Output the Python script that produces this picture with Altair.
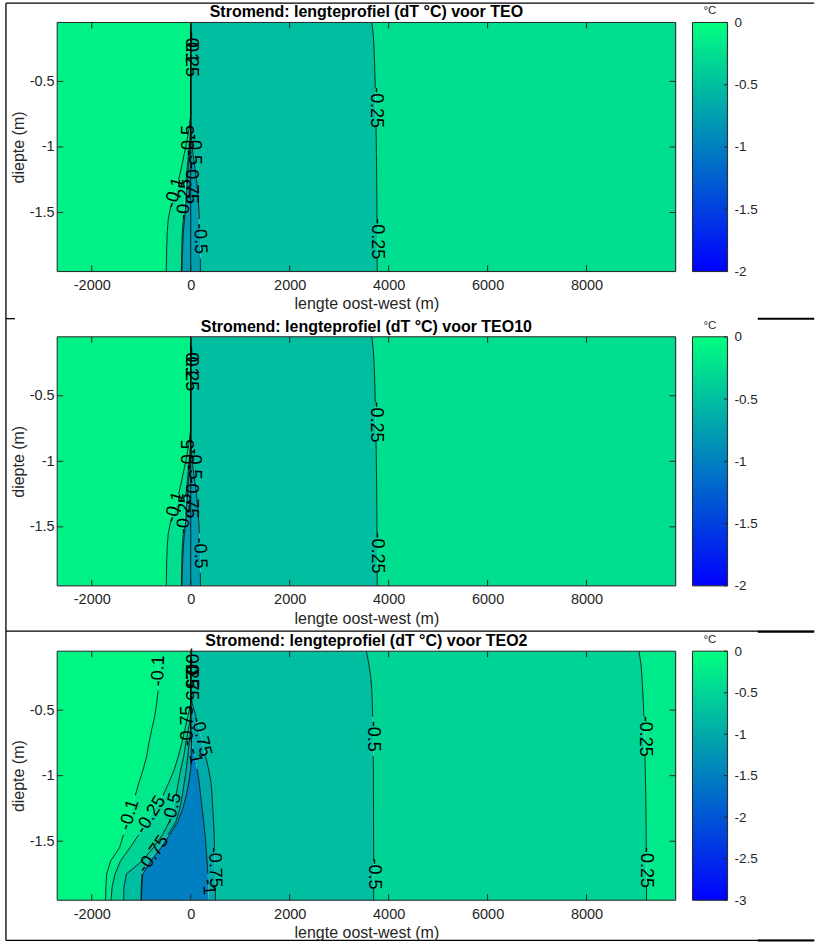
import altair as alt
import pandas as pd

FONT = "Liberation Sans"
INK = "#262626"

# ---- shared axes -------------------------------------------------------
DEPTH = [-0.05, -0.15, -0.25, -0.35, -0.45, -0.55, -0.65, -0.75, -0.85, -0.95,
         -1.05, -1.15, -1.25, -1.35, -1.45, -1.55, -1.65, -1.75, -1.85, -1.95]
X_DOMAIN = [-2700, 9800]
Y_DOMAIN = [-1.95, -0.05]
X_TICKS = [-2000, 0, 2000, 4000, 6000, 8000]
Y_TICKS = [-1.5, -1, -0.5]
WINTER = ["#0000ff", "#00ff80"]  # MATLAB 'winter' colormap end points

# ---- TEO: contour line positions x (m) at each DEPTH ------------------
TEO_LINES = {
    "a": [0, 0, 0, 0, 0, 0, 0, 0, -30, -75, -130, -185, -245, -315, -400, -455, -475, -485, -490, -495],
    "b": [0, 0, 0, 0, 0, 0, 0, 0, 0, -20, -45, -70, -95, -115, -125, -150, -170, -180, -185, -190],
    "c": [0, 0, 0, 0, 0, 0, 0, 0, 0, 0, -25, -45, -65, -85, -100, -125, -150, -162, -170, -176],
    "e": [0, 0, 0, 0, 0, 0, 0, 0, 0, 0, 0, 0, 0, 0, 0, 0, 0, 0, 0, 0],
    "f": [0, 0, 0, 0, 0, 0, 0, 0, 0, 20, 45, 80, 115, 140, 160, 175, 185, 190, 193, 196],
    "g": [3660, 3690, 3705, 3715, 3722, 3730, 3736, 3741, 3745, 3750,
          3753, 3756, 3758, 3760, 3762, 3764, 3766, 3767, 3768, 3770],
}
# line breaks left open for the labels: (upper depth, lower depth)
TEO_GAPS = {
    "a": [(-1.25, -1.45)],
    "b": [(-1.25, -1.55)],
    "f": [(-1.55, -1.85)],
    "g": [(-0.55, -0.85), (-1.55, -1.85)],
}
# filled bands: (left boundary, right boundary, lower contour level)
TEO_BANDS = [("xmin", "a", -0.1), ("a", "b", -0.25), ("b", "c", -0.5),
             ("c", "f", -0.75), ("f", "g", -0.5), ("g", "xmax", -0.25)]
# contour labels: (text, x, depth, rotation)
TEO_LABELS = [
    ("-0.1", -5, -0.24, 90), ("-0.25", 0, -0.31, 90),
    ("-0.5", -40, -0.95, 270), ("-0.5", 60, -1.02, 90),
    ("-0.75", 10, -1.28, 90), ("-0.1", -320, -1.35, 286),
    ("-0.25", -122, -1.40, 274), ("-0.5", 184, -1.70, 88),
    ("-0.25", 3738, -0.70, 90), ("-0.25", 3766, -1.70, 90),
]

# ---- TEO10: same profile as TEO ---------------------------------------
TEO10_LINES = TEO_LINES
TEO10_GAPS = TEO_GAPS
TEO10_BANDS = TEO_BANDS
TEO10_LABELS = TEO_LABELS

# ---- TEO2 ---------------------------------------------------------------
TEO2_LINES = {
    "c1": [-640, -645, -652, -660, -690, -730, -790, -845, -890, -960,
           -1045, -1120, -1200, -1280, -1360, -1440, -1620, -1700, -1715, -1722],
    "c2": [0, 0, 0, 0, 0, -60, -120, -180, -250, -330,
           -440, -560, -730, -890, -1050, -1230, -1420, -1530, -1590, -1610],
    "c3": [0, 0, 0, 0, 0, 0, -50, -100, -140, -200,
           -250, -300, -360, -430, -570, -760, -980, -1300, -1350, -1355],
    "c4": [0, 0, 0, 0, 0, 0, 0, -30, -60, -90,
           -130, -170, -220, -300, -460, -650, -860, -985, -1000, -1005],
    "c5": [0, 0, 0, 0, 0, 0, 0, 15, 10, 0,
           -40, -90, -160, -260, -420, -600, -800, -970, -990, -995],
    "c6": [0, 0, 0, 0, 0, 0, 0, 15, 80, 130, 170, 200, 230, 260, 290, 310, 330, 345, 355, 365],
    "c7": [0, 0, 0, 0, 30, 110, 170, 230, 300, 360, 410, 430, 445, 460, 475, 480, 485, 490, 495, 500],
    "c8": [3550, 3600, 3640, 3660, 3670, 3677, 3682, 3686, 3689, 3691,
           3692, 3693, 3694, 3695, 3695, 3696, 3696, 3697, 3697, 3697],
    "c9": [9060, 9100, 9120, 9135, 9148, 9158, 9166, 9173, 9180, 9186,
           9191, 9196, 9200, 9203, 9206, 9208, 9210, 9211, 9212, 9212],
}
TEO2_GAPS = {
    "c1": [(-0.05, -0.35), (-1.15, -1.45)],
    "c2": [(-1.15, -1.45)],
    "c3": [(-1.15, -1.35)],
    "c4": [(-1.45, -1.75)],
    "c6": [(-0.75, -0.95), (-1.75, -1.95)],
    "c7": [(-0.55, -0.85), (-1.55, -1.85)],
    "c8": [(-0.55, -0.85), (-1.65, -1.85)],
    "c9": [(-0.55, -0.85), (-1.55, -1.85)],
}
TEO2_BANDS = [("xmin", "c1", -0.1), ("c1", "c2", -0.25), ("c2", "c3", -0.5),
              ("c3", "c4", -0.75), ("c4", "c5", -1), ("c5", "c6", -1.5),
              ("c6", "c7", -1), ("c7", "c8", -0.75), ("c8", "c9", -0.5),
              ("c9", "xmax", -0.25)]
TEO2_LABELS = [
    ("-0.1", -650, -0.20, 272), ("-0.1", -1240, -1.30, 287),
    ("-0.25", -805, -1.30, 302), ("-0.5", -365, -1.25, 284),
    ("-0.75", -755, -1.60, 305), ("-0.25", 0, -0.18, 90),
    ("-0.5", 0, -0.22, 90), ("-0.75", 0, -0.27, 90),
    ("-0.75", -50, -0.62, 270), ("-0.75", 205, -0.70, 76),
    ("-1", 75, -0.85, 78), ("-0.75", 485, -1.70, 88),
    ("-1", 355, -1.85, 85), ("-0.5", 3686, -0.70, 90),
    ("-0.5", 3697, -1.75, 90), ("-0.25", 9173, -0.70, 90),
    ("-0.25", 9209, -1.70, 90),
]

PANELS = [
    ("Stromend: lengteprofiel (dT °C) voor TEO", TEO_LINES, TEO_GAPS, TEO_BANDS,
     TEO_LABELS, -2, [0, -0.5, -1, -1.5, -2]),
    ("Stromend: lengteprofiel (dT °C) voor TEO10", TEO10_LINES, TEO10_GAPS, TEO10_BANDS,
     TEO10_LABELS, -2, [0, -0.5, -1, -1.5, -2]),
    ("Stromend: lengteprofiel (dT °C) voor TEO2", TEO2_LINES, TEO2_GAPS, TEO2_BANDS,
     TEO2_LABELS, -3, [0, -0.5, -1, -1.5, -2, -2.5, -3]),
]

# ---- layout (pixels) ----------------------------------------------------
W, H = 619.4, 249.4
CB_W = 35
TICK = 6
NUM = "'' + datum.value"

X_AXIS = alt.Axis(values=X_TICKS, labelExpr=NUM, ticks=False, domain=False,
                  grid=False, labelPadding=7, labelFont=FONT, labelFontSize=14.5,
                  labelColor=INK, labelFlush=False,
                  title="lengte oost-west (m)", titleFont=FONT, titleFontSize=16,
                  titleFontWeight="normal", titleColor=INK, titleY=37.6,
                  titleBaseline="alphabetic")
Y_AXIS = alt.Axis(values=Y_TICKS, labelExpr=NUM, ticks=False, domain=False,
                  grid=False, labelPadding=3, labelFont=FONT, labelFontSize=14.5,
                  labelColor=INK,
                  title="diepte (m)", titleFont=FONT, titleFontSize=16,
                  titleFontWeight="normal", titleColor=INK, titleX=-33.3,
                  titleBaseline="alphabetic")


def edge(lines, name):
    if name == "xmin":
        return [X_DOMAIN[0]] * len(DEPTH)
    if name == "xmax":
        return [X_DOMAIN[1]] * len(DEPTH)
    return lines[name]


def main_panel(title, lines, gaps, bands, labels, cmin, with_page_rules):
    band_rows = []
    for i, (left, right, lev) in enumerate(bands):
        for d, xl, xr in zip(DEPTH, edge(lines, left), edge(lines, right)):
            band_rows.append({"band": i, "d": d, "xl": xl, "xr": xr, "lev": lev})
    band_df = pd.DataFrame(band_rows)

    # contour lines, split into pieces around their labels
    line_rows = []
    for name, xs_ in lines.items():
        cuts = gaps.get(name, [])
        for d, x in zip(DEPTH, xs_):
            if any(lo < d < hi for hi, lo in cuts):
                continue
            piece = sum(1 for hi, lo in cuts if d <= lo)
            line_rows.append({"line": f"{name}-{piece}", "d": d, "x": x})
    line_df = pd.DataFrame(line_rows)

    label_df = pd.DataFrame(labels, columns=["t", "x", "d", "rot"])
    frame_df = pd.DataFrame({"x0": [X_DOMAIN[0]], "x1": [X_DOMAIN[1]],
                             "y0": [Y_DOMAIN[0]], "y1": [Y_DOMAIN[1]]})

    xs = alt.Scale(domain=X_DOMAIN, nice=False, zero=False)
    ys = alt.Scale(domain=Y_DOMAIN, nice=False, zero=False)
    cs = alt.Scale(domain=[cmin, 0], range=WINTER, interpolate="rgb")

    def X(field):
        return alt.X(field, scale=xs, axis=X_AXIS)

    def Y(field):
        return alt.Y(field, scale=ys, axis=Y_AXIS)

    fills = alt.Chart(band_df).mark_area(orient="horizontal").encode(
        x=X("xl:Q"), x2="xr:Q", y=Y("d:Q"),
        color=alt.Color("lev:Q", scale=cs, legend=None),
        detail="band:N",
    )
    contour = alt.Chart(line_df).mark_line(color="black", strokeWidth=0.8).encode(
        x=X("x:Q"), y=Y("d:Q"), detail="line:N",
        order=alt.Order("d:Q", sort="descending"),
    )
    text = alt.Chart(label_df).mark_text(font=FONT, fontSize=18, color="black").encode(
        x=X("x:Q"), y=Y("d:Q"), text="t:N",
        angle=alt.Angle("rot:Q", scale=None),
    )
    frame = alt.Chart(frame_df).mark_rect(fillOpacity=0, stroke=INK, strokeWidth=1).encode(
        x=X("x0:Q"), x2="x1:Q", y=Y("y0:Q"), y2="y1:Q",
    )
    xt = alt.Chart(pd.DataFrame({"v": X_TICKS})).mark_rule(color=INK, strokeWidth=1)
    yt = alt.Chart(pd.DataFrame({"v": Y_TICKS})).mark_rule(color=INK, strokeWidth=1)
    ticks = [
        xt.encode(x=X("v:Q"), y=alt.value(H), y2=alt.value(H - TICK)),
        xt.encode(x=X("v:Q"), y=alt.value(0), y2=alt.value(TICK)),
        yt.encode(y=Y("v:Q"), x=alt.value(0), x2=alt.value(TICK)),
        yt.encode(y=Y("v:Q"), x=alt.value(W), x2=alt.value(W - TICK)),
    ]
    one = alt.Chart(pd.DataFrame({"k": [0]}))
    heading = one.mark_text(text=title, font=FONT, fontSize=16, fontWeight="bold",
                            color="black", align="center", baseline="alphabetic").encode(
        x=alt.value(W / 2), y=alt.value(-5))

    layers = [fills, contour, text, frame] + ticks + [heading]

    if with_page_rules:
        # page frame lines around the three figures
        L, R = -51.3, 758.2
        T, B = -19.3, 919.4
        thin = one.mark_rule(color="black", strokeWidth=1.3)
        thick = one.mark_rule(color="black", strokeWidth=2)
        layers += [
            thin.encode(x=alt.value(L), x2=alt.value(R), y=alt.value(T)),
            thin.encode(x=alt.value(L), y=alt.value(T), y2=alt.value(B)),
            thin.encode(x=alt.value(L), x2=alt.value(L + 9), y=alt.value(296.7)),
            thick.encode(x=alt.value(701.7), x2=alt.value(R), y=alt.value(296.7)),
            thin.encode(x=alt.value(L), x2=alt.value(R), y=alt.value(609.7)),
            thick.encode(x=alt.value(701.7), x2=alt.value(R), y=alt.value(610.2)),
            thin.encode(x=alt.value(L), x2=alt.value(R), y=alt.value(B)),
            thick.encode(x=alt.value(701.7), x2=alt.value(R), y=alt.value(B)),
        ]

    return alt.layer(*layers).properties(width=W, height=H)


def colorbar(cmin, cticks):
    lim = pd.DataFrame({"lo": [cmin], "hi": [0]})
    cys = alt.Scale(domain=[cmin, 0], nice=False, zero=False)
    axis = alt.Axis(orient="right", values=cticks, labelExpr=NUM, ticks=False,
                    domain=False, grid=False, labelPadding=6.5, labelFont=FONT,
                    labelFontSize=13.5, labelColor=INK, title=None)
    grad = alt.Gradient(gradient="linear",
                        stops=[alt.GradientStop(color=WINTER[0], offset=0),
                               alt.GradientStop(color=WINTER[1], offset=1)],
                        x1=0, x2=0, y1=1, y2=0)
    bar = alt.Chart(lim).mark_rect(fill=grad).encode(
        y=alt.Y("lo:Q", scale=cys, axis=axis), y2="hi:Q",
        x=alt.value(0), x2=alt.value(CB_W),
    )
    box = alt.Chart(lim).mark_rect(fillOpacity=0, stroke=INK, strokeWidth=1).encode(
        y=alt.Y("lo:Q", scale=cys, axis=axis), y2="hi:Q",
        x=alt.value(0), x2=alt.value(CB_W),
    )
    ticks = alt.Chart(pd.DataFrame({"v": cticks})).mark_rule(color=INK, strokeWidth=1).encode(
        y=alt.Y("v:Q", scale=cys, axis=axis), x=alt.value(CB_W - 3.5), x2=alt.value(CB_W),
    )
    unit = alt.Chart(pd.DataFrame({"k": [0]})).mark_text(
        text="°C", font=FONT, fontSize=11.5, color=INK, align="center",
        baseline="alphabetic").encode(x=alt.value(CB_W / 2), y=alt.value(-8.3))
    return alt.layer(bar, box, ticks, unit).properties(width=CB_W, height=H)


cells = []
for k, (title, lines, gaps, bands, labels, cmin, cticks) in enumerate(PANELS):
    cells.append(main_panel(title, lines, gaps, bands, labels, cmin, with_page_rules=(k == 0)))
    cells.append(colorbar(cmin, cticks))

chart = (
    alt.concat(*cells, columns=2, spacing={"row": 64.85, "column": 16.3}, bounds="flush")
    .resolve_scale(color="independent")
    .properties(padding={"left": 4.25, "top": 0.75, "right": 0, "bottom": 0})
    .configure_view(stroke=None)
    .configure(background="white")
)

chart.save("out.html", embed_options={"renderer": "svg", "actions": False})
